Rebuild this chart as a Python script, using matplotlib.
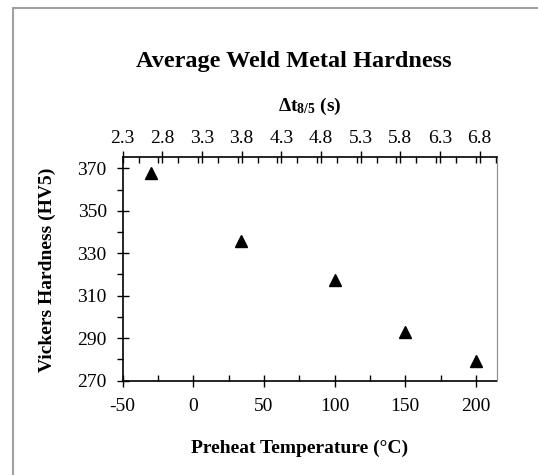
import numpy as np
import matplotlib
matplotlib.use("Agg")
import matplotlib.pyplot as plt
from matplotlib.lines import Line2D
from matplotlib.ticker import MultipleLocator

# data
preheat = [-30, 34, 100, 150, 200]
hardness = [368, 336, 317.5, 293, 279.5]
top_ticks = [2.3, 2.8, 3.3, 3.8, 4.3, 4.8, 5.3, 5.8, 6.3, 6.8]
bottom_ticks = [-50, 0, 50, 100, 150, 200]
y_ticks = [270, 290, 310, 330, 350, 370]

plt.rcParams['font.family'] = ['Liberation Serif', 'DejaVu Serif']
plt.rcParams['axes.unicode_minus'] = False
plt.rcParams['mathtext.fontset'] = 'custom'
plt.rcParams['mathtext.rm'] = 'Liberation Serif'
plt.rcParams['mathtext.bf'] = 'Liberation Serif:bold'

fig = plt.figure(figsize=(5.38, 4.75), dpi=100)
ax = fig.add_axes([0.228, 0.1985, 0.696, 0.4705])

# gray frame of the chart area
fig.add_artist(Line2D([12.5 / 538, 12.5 / 538], [0, 1 - 8 / 475], color='#a0a0a0', lw=1.5))
fig.add_artist(Line2D([12.5 / 538, 1], [1 - 8 / 475, 1 - 8 / 475], color='#a0a0a0', lw=1.5))

ax.plot(preheat, hardness, linestyle='none', marker='^', ms=8.7, color='black')

ax.set_xlim(-50, 215)
ax.set_ylim(270, 375.2)
ax.set_xticks(bottom_ticks)
ax.set_yticks(y_ticks)
ax.xaxis.set_minor_locator(MultipleLocator(25))
ax.yaxis.set_minor_locator(MultipleLocator(10))
ax.tick_params(axis='both', which='major', direction='inout', length=9, width=1, labelsize=14)
ax.tick_params(axis='x', which='major', pad=8)
ax.tick_params(axis='y', which='major', pad=7)
ax.tick_params(axis='x', which='minor', direction='in', length=4, width=1)
ax.tick_params(axis='y', which='minor', direction='out', length=4, width=1)
ax.spines['right'].set_color('#909090')
ax.spines['top'].set_visible(False)
for s in ['left', 'bottom']:
    ax.spines[s].set_linewidth(1.2)

ax.set_xlabel('Preheat Temperature (°C)', fontsize=14, fontweight='bold', va='center')
ax.xaxis.set_label_coords(0.4737, -0.303)
ax.set_ylabel('Vickers Hardness (HV5)', fontsize=14, fontweight='bold', va='center')
ax.yaxis.set_label_coords(-0.2022, 0.4955)

top = ax.twiny()
top.set_xlim(2.3, 7.02)
top.set_xticks(top_ticks)
top.set_xticklabels(['%.1f' % t for t in top_ticks])
top.xaxis.set_minor_locator(MultipleLocator(0.25))
top.tick_params(axis='x', which='major', direction='inout', length=9, width=1, labelsize=14, pad=3)
top.tick_params(axis='x', which='minor', direction='in', length=4, width=1)
top.spines['top'].set_linewidth(1.2)
top.spines['right'].set_color('#909090')
top.spines['left'].set_visible(False)
top.spines['bottom'].set_visible(False)
top.set_xlabel(r'$\mathbf{\Delta t_{8/5}}$ (s)', fontsize=14, fontweight='bold', va='center')
top.xaxis.set_label_coords(0.5, 1.2265)

fig.text(293.5 / 538, 1 - 61 / 475, 'Average Weld Metal Hardness', ha='center', va='center',
         fontsize=17.5, fontweight='bold')

fig.savefig('out.png', dpi=100)
